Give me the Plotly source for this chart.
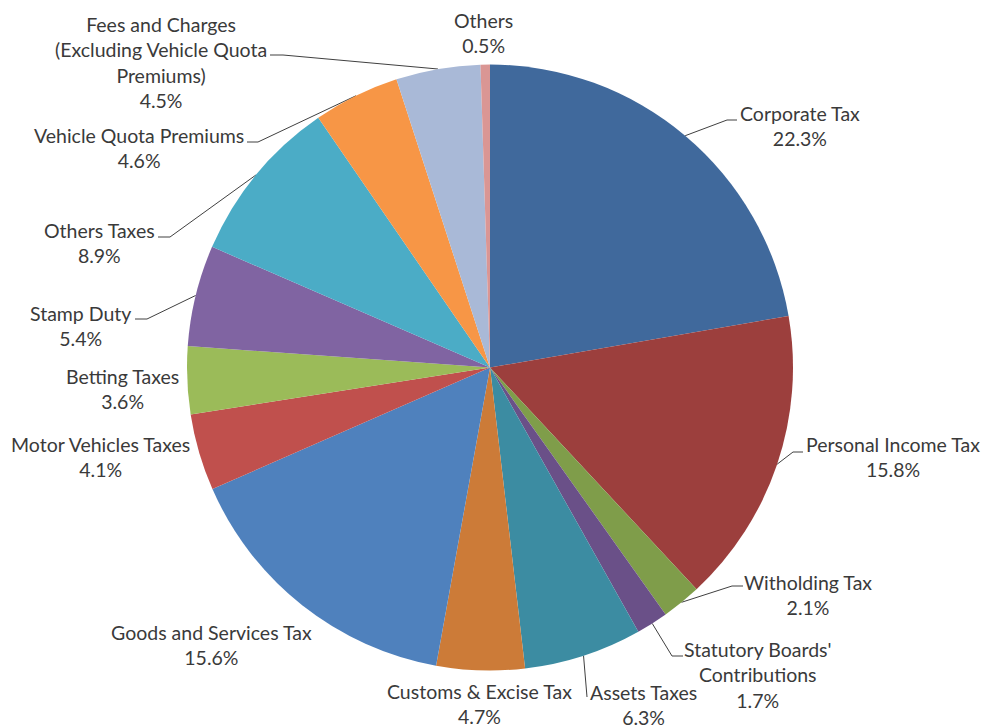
import math
import plotly.graph_objects as go

# Revenue components (percent of total)
categories = [
    "Corporate Tax", "Personal Income Tax", "Witholding Tax",
    "Statutory Boards'<br>Contributions", "Assets Taxes", "Customs & Excise Tax",
    "Goods and Services Tax", "Motor Vehicles Taxes", "Betting Taxes",
    "Stamp Duty", "Others Taxes", "Vehicle Quota Premiums",
    "Fees and Charges<br>(Excluding Vehicle Quota<br>Premiums)", "Others",
]
shares = [22.3, 15.8, 2.1, 1.7, 6.3, 4.7, 15.6, 4.1, 3.6, 5.4, 8.9, 4.6, 4.5, 0.5]
colors = [
    "#40699C", "#9C3F3D", "#7F9D4A", "#6A5088", "#3C8CA2", "#CC7B38", "#4F81BD",
    "#C0504D", "#9BBB59", "#8064A2", "#4BACC6", "#F79646", "#A9B9D7", "#DA9694",
]

W, H = 984, 728
CX, CY, R = 490, 367.5, 303  # pie centre / radius in pixels

# label placement in pixels: text centre, and optional leader (elbow, end)
label_layout = [
    ((800, 126), ((727, 120), (737, 120))),
    ((893, 457), ((793, 452), (803, 452))),
    ((808, 595), ((732, 586), (743, 586))),
    ((758, 675), ((672, 656), (683, 656))),
    ((643, 705), ((587, 697), (587, 697))),
    ((479, 704), None),
    ((211, 645), None),
    ((100, 457), None),
    ((122, 389), None),
    ((80, 326), ((147, 319), (135, 319))),
    ((99, 243), ((170, 237), (158, 237))),
    ((139, 148), ((258, 142), (247, 142))),
    ((161, 62), ((283, 55), (270, 55))),
    ((483, 33), None),
]

fig = go.Figure()

fig.add_trace(go.Pie(
    labels=categories,
    values=shares,
    sort=False,
    direction="clockwise",
    rotation=0,
    marker=dict(colors=colors, line=dict(width=0)),
    textinfo="none",
    hoverinfo="label+value",
    showlegend=False,
    domain=dict(x=[(CX - R) / W, (CX + R) / W],
                y=[1 - (CY + R) / H, 1 - (CY - R) / H]),
))

total = sum(shares)
cum = 0.0
for name, val, (center, leader) in zip(categories, shares, label_layout):
    mid = (cum + val / 2) / total * 2 * math.pi
    cum += val
    fig.add_annotation(
        x=center[0], y=center[1], xref="x", yref="y",
        text=f"{name}<br>{val:.1f}%", showarrow=False,
        font=dict(family="Lato", size=19.5, color="#3a3a3a"),
        align="center", xanchor="center", yanchor="middle",
    )
    if leader is not None:
        ex = CX + R * math.sin(mid)
        ey = CY - R * math.cos(mid)
        (bx, by), (tx, ty) = leader
        fig.add_trace(go.Scatter(
            x=[ex, bx, tx], y=[ey, by, ty], mode="lines",
            line=dict(color="#404040", width=1),
            hoverinfo="skip", showlegend=False,
        ))

fig.update_layout(
    width=W, height=H,
    margin=dict(l=0, r=0, t=0, b=0),
    paper_bgcolor="white", plot_bgcolor="rgba(0,0,0,0)",
    xaxis=dict(range=[0, W], visible=False, domain=[0, 1], fixedrange=True),
    yaxis=dict(range=[H, 0], visible=False, domain=[0, 1], fixedrange=True),
)

fig.write_html("out.html")
